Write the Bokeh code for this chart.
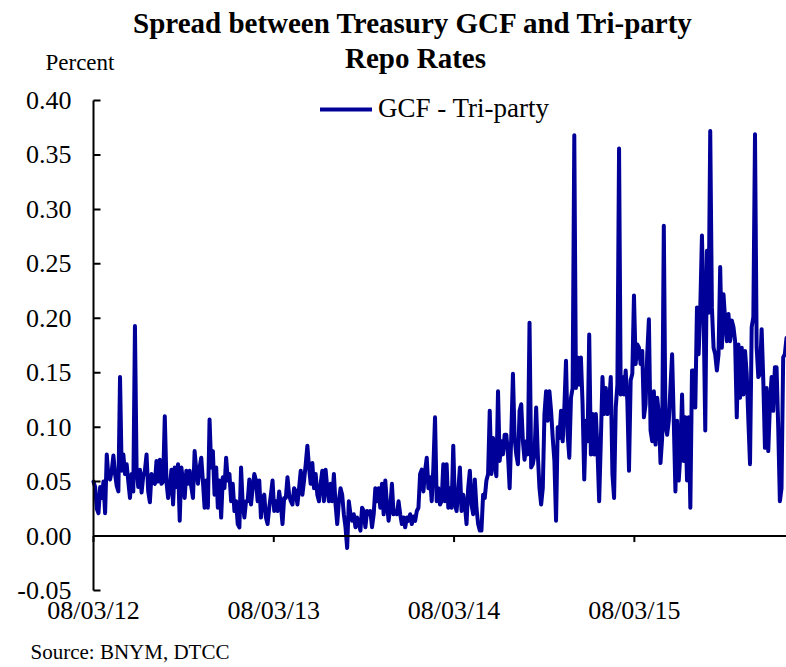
import pandas as pd
from bokeh.plotting import figure
from bokeh.models import Range1d, Label
from bokeh.core.properties import value
from bokeh.embed import file_html
from bokeh.resources import INLINE

# GCF minus Tri-party spread (percent) in date order
spread_1 = [0.05, 0.045, 0.025, 0.021, 0.045, 0.035, 0.05, 0.021, 0.075, 0.054,
            0.052, 0.06, 0.074, 0.057, 0.046, 0.041, 0.146, 0.06, 0.075, 0.057,
            0.066, 0.05, 0.035, 0.057, 0.041, 0.193, 0.06, 0.045, 0.061, 0.04,
            0.055, 0.06, 0.075, 0.041, 0.031, 0.057, 0.05, 0.048, 0.069, 0.05,
            0.07, 0.048, 0.05, 0.11, 0.05, 0.035, 0.045, 0.061, 0.029, 0.063,
            0.045, 0.066, 0.014, 0.063, 0.05, 0.035, 0.06, 0.048, 0.06, 0.045,
            0.035, 0.078, 0.06, 0.048, 0.063, 0.072, 0.05, 0.026]
spread_2 = [0.051, 0.026, 0.107, 0.063, 0.078, 0.038, 0.063, 0.026, 0.051, 0.017,
            0.054, 0.044, 0.072, 0.051, 0.057, 0.032, 0.048, 0.023, 0.032, 0.011,
            0.008, 0.063, 0.029, 0.017, 0.032, 0.032, 0.052, 0.029, 0.044, 0.057,
            0.051, 0.032, 0.051, 0.017, 0.035, 0.038, 0.017, 0.011, 0.026, 0.038,
            0.051, 0.023, 0.032, 0.023, 0.041, 0.029, 0.011, 0.035, 0.035, 0.054,
            0.038, 0.032, 0.029, 0.044, 0.041, 0.029, 0.044, 0.06, 0.038, 0.051,
            0.066, 0.083, 0.063, 0.048, 0.067, 0.044, 0.057, 0.038, 0.032]
spread_3 = [0.048, 0.06, 0.032, 0.061, 0.044, 0.032, 0.048, 0.032, 0.057, 0.029,
            0.011, 0.032, 0.044, 0.038, 0.02, 0.008, -0.011, 0.032, 0.02, 0.014,
            0.02, 0.008, 0.017, 0.011, 0.005, 0.026, 0.023, 0.008, 0.023, 0.02,
            0.023, 0.008, 0.02, 0.044, 0.032, 0.044, 0.026, 0.048, 0.02, 0.051,
            0.029, 0.014, 0.026, 0.048, 0.02, 0.023, 0.02, 0.032, 0.02, 0.011,
            0.017, 0.008, 0.017, 0.014, 0.02, 0.011, 0.018, 0.014, 0.023, 0.026,
            0.057, 0.061, 0.041, 0.06, 0.072, 0.044, 0.054, 0.032, 0.063]
spread_4 = [0.109, 0.032, 0.044, 0.029, 0.032, 0.066, 0.032, 0.066, 0.026, 0.044,
            0.026, 0.083, 0.029, 0.023, 0.041, 0.063, 0.023, 0.038, 0.029, 0.011,
            0.044, 0.06, 0.029, 0.02, 0.052, 0.026, 0.011, 0.005, 0.005, 0.038,
            0.035, 0.051, 0.057, 0.115, 0.057, 0.09, 0.066, 0.055, 0.133, 0.069,
            0.087, 0.075, 0.093, 0.093, 0.075, 0.044, 0.093, 0.149, 0.09, 0.075,
            0.066, 0.115, 0.121, 0.087, 0.07, 0.087, 0.075, 0.196, 0.063, 0.066,
            0.075, 0.118, 0.075, 0.044, 0.029, 0.044, 0.112, 0.133, 0.106]
spread_5 = [0.133, 0.115, 0.09, 0.069, 0.014, 0.1, 0.09, 0.115, 0.087, 0.118,
            0.161, 0.093, 0.072, 0.127, 0.136, 0.368, 0.136, 0.164, 0.139, 0.164,
            0.121, 0.052, 0.106, 0.087, 0.185, 0.075, 0.112, 0.075, 0.112, 0.078,
            0.032, 0.087, 0.146, 0.112, 0.136, 0.112, 0.121, 0.146, 0.057, 0.035,
            0.118, 0.139, 0.356, 0.13, 0.146, 0.13, 0.152, 0.124, 0.06, 0.143,
            0.149, 0.221, 0.158, 0.176, 0.173, 0.158, 0.17, 0.109, 0.121, 0.167,
            0.199, 0.097, 0.087, 0.133, 0.084, 0.127, 0.112, 0.067, 0.09, 0.285]
spread_6 = [0.1, 0.093, 0.106, 0.136, 0.167, 0.106, 0.041, 0.106, 0.051, 0.075,
            0.13, 0.069, 0.109, 0.051, 0.109, 0.026, 0.152, 0.152, 0.118, 0.21,
            0.167, 0.21, 0.276, 0.205, 0.097, 0.262, 0.205, 0.372, 0.21, 0.173,
            0.167, 0.152, 0.167, 0.247, 0.173, 0.222, 0.198, 0.179, 0.204, 0.179,
            0.198, 0.192, 0.179, 0.109, 0.176, 0.127, 0.173, 0.13, 0.17, 0.149,
            0.106, 0.066, 0.192, 0.201, 0.369, 0.173, 0.146, 0.149, 0.19, 0.143,
            0.081, 0.136, 0.078, 0.121, 0.146, 0.115, 0.155, 0.155, 0.1, 0.032,
            0.044, 0.164, 0.167, 0.182]

start_date = "2012-08-03"
end_date = "2016-06-06"
series_name = "GCF - Tri-party"

tick_dates = ["2012-08-03", "2013-08-03", "2014-08-03", "2015-08-03"]
tick_labels = ["08/03/12", "08/03/13", "08/03/14", "08/03/15"]
y_ticks = [-0.05, 0.0, 0.05, 0.10, 0.15, 0.20, 0.25, 0.30, 0.35, 0.40]

values = spread_1 + spread_2 + spread_3 + spread_4 + spread_5 + spread_6
dates = pd.date_range(start_date, end_date, periods=len(values))

# ---- layout (pixels) ----
W, H = 786, 667
AXIS_LEFT = 93      # pixel column of the value axis
TOP_PX = 100        # pixel row of the highest tick
BOTTOM_PX = 590     # pixel row of the lowest tick
FONT = "Liberation Serif"
BLUE = "#000099"

t0 = pd.Timestamp(start_date)
t1 = pd.Timestamp(end_date)
days_per_px = (t1 - t0) / pd.Timedelta(days=1) / (W - AXIS_LEFT)
x_start = t0 - pd.Timedelta(days=AXIS_LEFT * days_per_px)
y_lo, y_hi = min(y_ticks), max(y_ticks)
units_per_px = (y_hi - y_lo) / (BOTTOM_PX - TOP_PX)
y_start = y_lo - (H - BOTTOM_PX) * units_per_px
y_end = y_hi + TOP_PX * units_per_px

p = figure(width=W, height=H, output_backend="svg", toolbar_location=None,
           x_range=Range1d(x_start, t1), y_range=Range1d(y_start, y_end),
           x_axis_location=None, y_axis_location=None,
           min_border_left=0, min_border_right=0, min_border_top=0, min_border_bottom=0)
p.outline_line_color = None
p.grid.visible = False
p.background_fill_color = "white"

# data line
p.line(dates, values, line_color=BLUE, line_width=4,
       line_join="round", line_cap="round", legend_label=series_name)

# value axis: line, inward ticks, labels
p.segment(x0=[t0], y0=[y_lo], x1=[t0], y1=[y_hi], line_color="black", line_width=2)
tick_in = pd.Timedelta(days=7 * days_per_px)
p.segment(x0=[t0] * len(y_ticks), y0=y_ticks, x1=[t0 + tick_in] * len(y_ticks), y1=y_ticks,
          line_color="black", line_width=2)
p.text(x=[t0] * len(y_ticks), y=y_ticks, text=[f"{v:.2f}" for v in y_ticks],
       x_offset=-22, text_align="right", text_baseline="middle",
       text_font=value(FONT), text_font_size=value("26px"), text_color="black")

# date axis: line at zero, ticks hanging below, labels under the plot
tick_ts = [pd.Timestamp(d) for d in tick_dates]
p.segment(x0=[t0], y0=[0], x1=[t1], y1=[0], line_color="black", line_width=2)
p.segment(x0=tick_ts, y0=[0] * len(tick_ts), x1=tick_ts, y1=[-6 * units_per_px] * len(tick_ts),
          line_color="black", line_width=2)
p.text(x=tick_ts, y=[y_lo] * len(tick_ts), text=tick_labels,
       y_offset=20, text_align="center", text_baseline="middle",
       text_font=value(FONT), text_font_size=value("26px"), text_color="black")

leg = p.legend[0]
leg.location = (320, H - 111 - 13)
leg.border_line_color = None
leg.background_fill_alpha = 0
leg.padding = 0
leg.margin = 0
leg.glyph_width = 52
leg.glyph_height = 26
leg.label_height = 26
leg.label_standoff = 6
leg.label_text_font = FONT
leg.label_text_font_size = "27px"
leg.label_text_color = "black"

title_style = dict(x_units="screen", y_units="screen", text_align="center",
                   text_baseline="middle", text_font=FONT, text_font_style="bold",
                   text_font_size="29px", text_color="black")
p.add_layout(Label(x=413, y=H - 22, text="Spread between Treasury GCF and Tri-party", **title_style))
p.add_layout(Label(x=415, y=H - 57, text="Repo Rates", **title_style))
p.add_layout(Label(x=45, y=H - 62, x_units="screen", y_units="screen", text="Percent",
                   text_align="left", text_baseline="middle", text_font=FONT,
                   text_font_size="23px", text_color="black"))
p.add_layout(Label(x=30, y=H - 651, x_units="screen", y_units="screen", text="Source:  BNYM, DTCC",
                   text_align="left", text_baseline="middle", text_font=FONT,
                   text_font_size="21px", text_color="black"))

open("out.html", "w").write(file_html(p, INLINE))
